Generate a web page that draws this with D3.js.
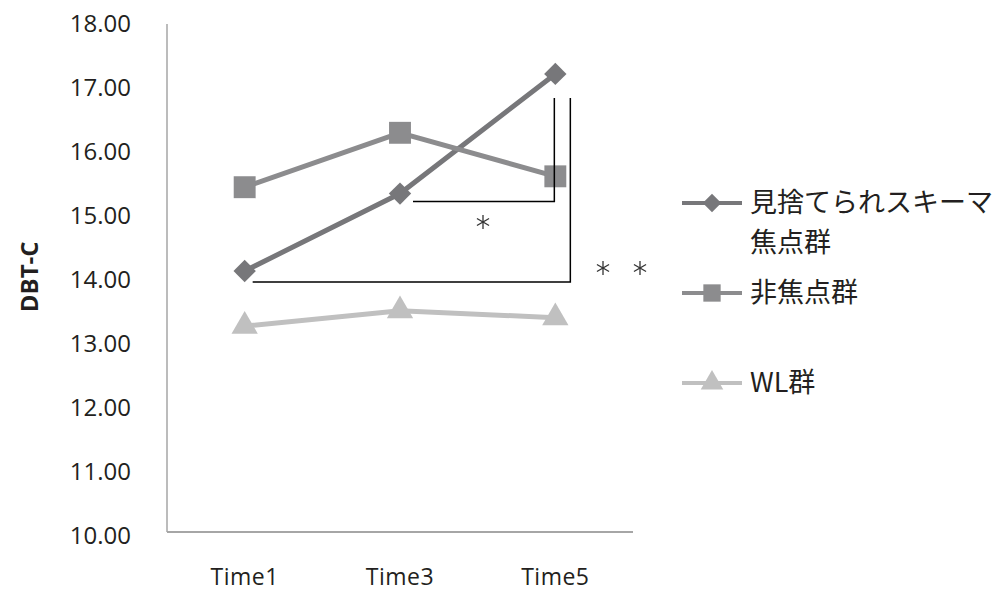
<!DOCTYPE html>
<html>
<head>
<meta charset="utf-8">
<script src="https://cdn.jsdelivr.net/npm/d3@7"></script>
<style>
  body { margin: 0; background: #fff; }
  text { font-family: "Open Sans", "Noto Sans CJK JP", sans-serif; fill: #231f20; }
</style>
</head>
<body>
<div id="chart"></div>
<script>
// données
const times = ["Time1", "Time3", "Time5"];
const groupNames = ["見捨てられスキーマ焦点群", "非焦点群", "WL群"];
const abandonFocus = [14.14, 15.35, 17.22];
const nonFocus = [15.45, 16.30, 15.62];
const wlGroup = [13.28, 13.52, 13.41];
const yTicks = [10, 11, 12, 13, 14, 15, 16, 17, 18];

const width = 1000;
const height = 596;
const margin = { left: 167, right: 367, top: 24, bottom: 62 };

const svg = d3.select("#chart")
    .append("svg")
    .attr("width", width)
    .attr("height", height);

const x = d3.scaleBand()
    .domain(times)
    .range([margin.left, width - margin.right]);

const y = d3.scaleLinear()
    .domain([10, 18])
    .range([height - margin.bottom + 2, margin.top]);

// axe y
svg.append("line")
    .attr("x1", margin.left).attr("x2", margin.left)
    .attr("y1", y(18)).attr("y2", y(10) - 4)
    .attr("stroke", "#a6a6a6").attr("stroke-width", 1.5);

// axe x
svg.append("line")
    .attr("x1", margin.left).attr("x2", width - margin.right)
    .attr("y1", y(10) - 4).attr("y2", y(10) - 4)
    .attr("stroke", "#a6a6a6").attr("stroke-width", 2);

svg.selectAll(".ytick")
    .data(yTicks)
    .join("text")
    .attr("class", "ytick")
    .attr("x", 131)
    .attr("y", d => y(d))
    .attr("dy", "0.35em")
    .attr("text-anchor", "end")
    .style("font-size", "24px")
    .text(d => d.toFixed(2));

svg.selectAll(".xtick")
    .data(times)
    .join("text")
    .attr("class", "xtick")
    .attr("x", d => x(d) + x.bandwidth() / 2)
    .attr("y", 585)
    .attr("text-anchor", "middle")
    .style("font-size", "23px")
    .style("letter-spacing", "0.5px")
    .text(d => d);

svg.append("text")
    .attr("transform", "translate(38," + y(14.05) + ") rotate(-90)")
    .attr("text-anchor", "middle")
    .style("font-size", "24px")
    .style("font-weight", "bold")
    .text("DBT-C");

const cx = d => x(d) + x.bandwidth() / 2;

const series = [
    { name: groupNames[0], values: abandonFocus, color: "#77777a", shape: d3.symbolSquare, rot: 45, size: 250, width: 5 },
    { name: groupNames[1], values: nonFocus, color: "#8c8c8e", shape: d3.symbolSquare, rot: 0, size: 480, width: 5 },
    { name: groupNames[2], values: wlGroup, color: "#c0c0c0", shape: d3.symbolTriangle, rot: 0, size: 300, width: 5 }
];

const line = d3.line()
    .x(d => cx(d.t))
    .y(d => y(d.v));

series.forEach(s => {
    const pts = times.map((t, i) => ({ t: t, v: s.values[i] }));
    const g = svg.append("g");
    g.append("path")
        .datum(pts)
        .attr("d", line)
        .attr("fill", "none")
        .attr("stroke", s.color)
        .attr("stroke-width", s.width);
    g.selectAll("path.pt")
        .data(pts)
        .join("path")
        .attr("class", "pt")
        .attr("transform", d => "translate(" + cx(d.t) + "," + y(d.v) + ") rotate(" + s.rot + ")")
        .attr("d", d3.symbol().type(s.shape).size(s.size))
        .attr("fill", s.color);
});

// crochets de significativité
const bx5 = cx("Time5");
svg.append("path")
    .attr("d", "M" + (cx("Time3") + 13) + "," + (y(abandonFocus[1]) + 8) +
        "H" + (bx5 - 1) + "V" + (y(17) + 10))
    .attr("fill", "none").attr("stroke", "#000").attr("stroke-width", 1.5);
svg.append("path")
    .attr("d", "M" + (cx("Time1") + 8) + "," + (y(abandonFocus[0]) + 11) +
        "H" + (bx5 + 15) + "V" + (y(17) + 10))
    .attr("fill", "none").attr("stroke", "#000").attr("stroke-width", 1.5);

// astérisques (6 branches)
const stars = [[483, 222], [603, 268], [640, 268]];
const starG = svg.selectAll(".star")
    .data(stars)
    .join("g")
    .attr("class", "star")
    .attr("transform", d => "translate(" + d[0] + "," + d[1] + ")");
[90, 30, -30].forEach(a => {
    starG.append("line")
        .attr("x1", -7 * Math.cos(a * Math.PI / 180)).attr("y1", -7 * Math.sin(a * Math.PI / 180))
        .attr("x2", 7 * Math.cos(a * Math.PI / 180)).attr("y2", 7 * Math.sin(a * Math.PI / 180))
        .attr("stroke", "#333")
        .attr("stroke-width", 1.3);
});

// légende
const legendY = [203, 293, 383];
const legend = svg.selectAll(".legend")
    .data(series)
    .join("g")
    .attr("class", "legend")
    .attr("transform", (d, i) => "translate(682," + legendY[i] + ")");

legend.append("line")
    .attr("x1", 0).attr("x2", 60)
    .attr("stroke", d => d.color)
    .attr("stroke-width", 4);

legend.append("path")
    .attr("transform", d => "translate(30,0) rotate(" + d.rot + ")")
    .attr("d", d => d3.symbol().type(d.shape).size(d.shape === d3.symbolSquare ? (d.rot ? 170 : 300) : 220)())
    .attr("fill", d => d.color);

legend.append("text")
    .attr("x", 68)
    .attr("dy", "0.35em")
    .style("font-family", "'Noto Sans CJK JP', sans-serif")
    .style("font-size", "27px")
    .each(function (d, i) {
        const t = d3.select(this);
        if (i === 0) {
            t.append("tspan").attr("x", 68).text(d.name.slice(0, 9));
            t.append("tspan").attr("x", 68).attr("dy", "1.48em").text(d.name.slice(9));
        } else {
            t.text(d.name);
        }
    });
</script>
</body>
</html>
